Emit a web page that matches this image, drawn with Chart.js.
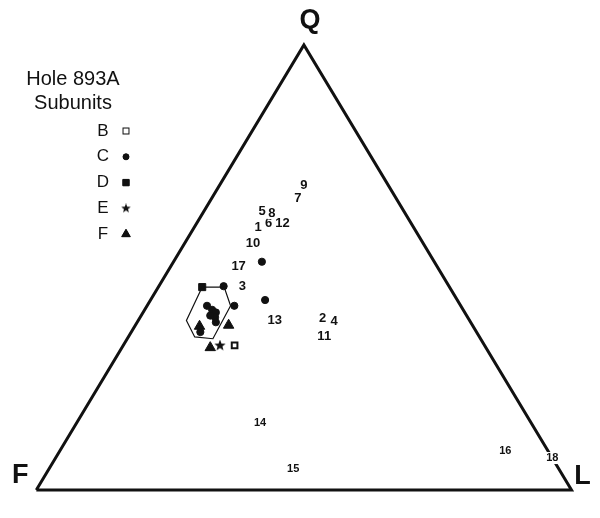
<!DOCTYPE html>
<html>
<head>
<meta charset="utf-8">
<script src="https://cdn.jsdelivr.net/npm/chart.js@4.4.1/dist/chart.umd.min.js"></script>
<style>
  html, body { margin: 0; padding: 0; background: #fff; }
  #wrap { width: 600px; height: 518px; }
</style>
</head>
<body>
<div id="wrap"><canvas id="qfl" width="600" height="518"></canvas></div>
<script>
// QFL compositions (percent)
const sampleNums = ['1', '2', '3', '4', '5', '6', '7', '8', '9', '10', '11', '12', '13', '14', '15', '16', '17', '18'];
const sampleQ = [58.9, 38.6, 45.8, 37.9, 62.6, 60.0, 65.5, 62.2, 68.5, 55.4, 34.6, 59.8, 38.1, 15.0, 4.8, 8.7, 50.2, 7.2];
const sampleF = [29.1, 27.2, 38.6, 25.4, 26.5, 26.6, 18.4, 24.9, 15.75, 31.8, 28.9, 24.1, 36.4, 50.7, 49.6, 8.0, 37.1, 0];
const sampleL = [12.0, 34.2, 15.6, 36.7, 10.9, 13.4, 16.1, 12.9, 15.75, 12.8, 36.5, 16.1, 25.5, 34.3, 45.6, 83.2, 12.7, 92.8];

// Hole 893A subunits
const subB_Q = [32.5];
const subB_F = [46.7];
const subB_L = [20.8];

const subC_Q = [51.3, 42.7, 45.8, 41.4, 41.4, 40.5, 39.9, 38.8, 37.7, 35.5, 39.2];
const subC_F = [32.2, 35.9, 42.1, 42.3, 47.4, 46.9, 46.5, 47.2, 47.6, 51.6, 47.9];
const subC_L = [16.5, 21.4, 12.1, 16.3, 11.2, 12.6, 13.6, 14.0, 14.7, 12.9, 12.9];

const subD_Q = [45.6];
const subD_F = [46.2];
const subD_L = [8.2];

const subE_Q = [32.5];
const subE_F = [49.5];
const subE_L = [18.1];

const subF_Q = [32.0, 37.0, 36.8];
const subF_F = [51.5, 45.5, 51.1];
const subF_L = [16.5, 17.4, 12.1];

// field outline around the subunit cluster
const fieldQ = [45.6, 45.6, 41.4, 34.0, 34.4, 38.1, 45.6];
const fieldL = [8.2, 12.3, 15.6, 16.0, 12.4, 9.0, 8.2];

const subunitNames = ['B', 'C', 'D', 'E', 'F'];

// ternary -> cartesian (F left, L right, Q top)
function toXY(q, f, l) {
    const s = q + f + l;
    return { x: (l + q / 2) / s, y: q / s };
}
function points(qs, fs, ls) {
    return qs.map((q, i) => toXY(q, fs[i], ls[i]));
}

// filled star for subunit E
function makeStar(size) {
    const c = document.createElement('canvas');
    c.width = size; c.height = size;
    const g = c.getContext('2d');
    const r = size / 2, ri = r * 0.42;
    g.beginPath();
    for (let i = 0; i < 10; i++) {
        const a = -Math.PI / 2 + i * Math.PI / 5;
        const rr = i % 2 === 0 ? r : ri;
        g.lineTo(r + rr * Math.cos(a), r + rr * Math.sin(a));
    }
    g.closePath();
    g.fillStyle = '#111';
    g.fill();
    return c;
}
const starBig = makeStar(12);
const starSmall = makeStar(10);

const ink = '#111';
const corners = [toXY(0, 100, 0), toXY(0, 0, 100), toXY(100, 0, 0), toXY(0, 100, 0)];

const symbolStyles = {
    B: { pointStyle: 'rect', radius: 4, fill: '#fff', border: 2 },
    C: { pointStyle: 'circle', radius: 3.6, fill: ink, border: 1 },
    D: { pointStyle: 'rect', radius: 5, fill: ink, border: 1 },
    E: { pointStyle: starBig, radius: 6, fill: ink, border: 0 },
    F: { pointStyle: 'triangle', radius: 6, fill: ink, border: 1 }
};

function subunitSet(name, qs, fs, ls) {
    const st = symbolStyles[name];
    return {
        label: name,
        data: points(qs, fs, ls),
        showLine: false,
        pointStyle: st.pointStyle,
        pointRadius: st.radius,
        pointBackgroundColor: st.fill,
        pointBorderColor: ink,
        pointBorderWidth: st.border,
        clip: false
    };
}

// draws sample numbers, vertex letters and the subunit key
const annotate = {
    id: 'annotate',
    afterDatasetsDraw(chart) {
        const ctx = chart.ctx;
        const xs = chart.scales.x, ys = chart.scales.y;
        ctx.save();
        ctx.fillStyle = ink;
        ctx.textAlign = 'center';
        ctx.textBaseline = 'middle';

        // sample numbers
        const meta = chart.getDatasetMeta(0);
        meta.data.forEach((el, i) => {
            const low = sampleQ[i] < 25;
            ctx.font = 'bold ' + (low ? 11 : 13) + 'px "Liberation Sans", Arial, sans-serif';
            const w = ctx.measureText(sampleNums[i]).width;
            ctx.fillStyle = '#fff';
            ctx.fillRect(el.x - w / 2 - 1, el.y - 6, w + 2, 12);
            ctx.fillStyle = ink;
            ctx.fillText(sampleNums[i], el.x, el.y);
        });

        // vertex letters
        ctx.font = 'bold 27px "Liberation Sans", Arial, sans-serif';
        const q = corners[2], f = corners[0], l = corners[1];
        ctx.fillText('Q', xs.getPixelForValue(q.x) + 6, ys.getPixelForValue(q.y) - 24);
        ctx.fillText('F', xs.getPixelForValue(f.x) - 16, ys.getPixelForValue(f.y) - 15);
        ctx.fillText('L', xs.getPixelForValue(l.x) + 11, ys.getPixelForValue(l.y) - 14);

        // key
        ctx.font = '20px "Liberation Sans", Arial, sans-serif';
        ctx.fillText('Hole 893A', 73, 79);
        ctx.fillText('Subunits', 73, 103);
        ctx.font = '17px "Liberation Sans", Arial, sans-serif';
        subunitNames.forEach((n, i) => {
            const y = 131 + i * 25.8;
            ctx.fillStyle = ink;
            ctx.fillText(n, 103, y);
            const st = symbolStyles[n];
            ctx.fillStyle = st.fill;
            ctx.strokeStyle = ink;
            ctx.lineWidth = n === 'B' ? 2 : 1;
            const small = n === 'E' ? starSmall : st.pointStyle;
            Chart.helpers.drawPoint(ctx, {
                pointStyle: small,
                radius: n === 'C' ? 3 : n === 'D' ? 4.5 : n === 'B' ? 3.5 : 5,
                rotation: 0,
                borderWidth: ctx.lineWidth
            }, 126, y);
            if (n !== 'E') ctx.fill();
        });
        ctx.restore();
    }
};

new Chart(document.getElementById('qfl'), {
    type: 'scatter',
    data: {
        datasets: [
            {
                label: 'samples',
                data: points(sampleQ, sampleF, sampleL),
                pointRadius: 0,
                showLine: false,
                clip: false
            },
            {
                label: 'triangle',
                data: corners,
                showLine: true,
                borderColor: ink,
                borderWidth: 3,
                borderJoinStyle: 'miter',
                pointRadius: 0,
                clip: false
            },
            {
                label: 'field',
                data: fieldQ.map((qv, i) => toXY(qv, 100 - qv - fieldL[i], fieldL[i])),
                showLine: true,
                borderColor: ink,
                borderWidth: 1.2,
                pointRadius: 0,
                clip: false
            },
            subunitSet('C', subC_Q, subC_F, subC_L),
            subunitSet('D', subD_Q, subD_F, subD_L),
            subunitSet('F', subF_Q, subF_F, subF_L),
            subunitSet('E', subE_Q, subE_F, subE_L),
            subunitSet('B', subB_Q, subB_F, subB_L)
        ]
    },
    options: {
        responsive: false,
        animation: false,
        layout: { padding: 0 },
        plugins: {
            legend: { display: false },
            tooltip: { enabled: false }
        },
        scales: {
            x: { type: 'linear', display: false, min: -0.05474, max: 1.04015 },
            y: { type: 'linear', display: false, min: -0.04699, max: 1.08525 }
        }
    },
    plugins: [annotate]
});
</script>
</body>
</html>
